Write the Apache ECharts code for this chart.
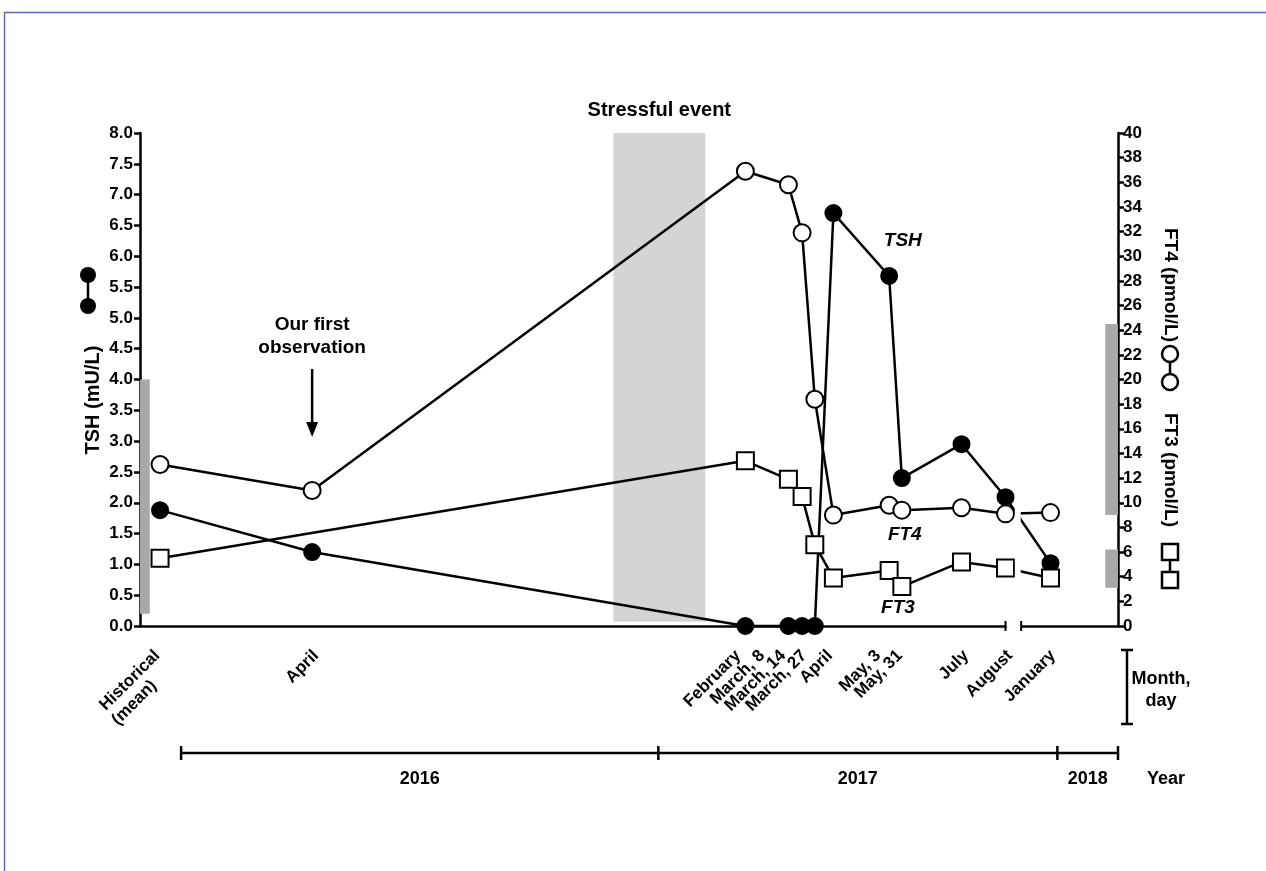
<!DOCTYPE html>
<html>
<head>
<meta charset="utf-8">
<script src="https://cdn.jsdelivr.net/npm/echarts@6.0.0/dist/echarts.min.js"></script>
<style>
  html, body { margin: 0; padding: 0; background: #fff; }
  #chart { width: 1266px; height: 871px; }
</style>
</head>
<body>
<div id="chart"></div>
<script>
const FONT = '"Liberation Sans", Arial, sans-serif'

// visits, placed on a plain 0..100 time track
const visitLabels = ["\nHistorical\n(mean)     ", "April", "February", "March, 8", "March, 14", "March, 27",
  "April", "May, 3", "May, 31", "July", "August", "January"]
const visitX = [2.05, 17.6, 61.9, 66.3, 67.7, 69.0, 70.9, 76.6, 77.9, 84.0, 88.5, 93.1]
// where the month labels sit on the track (spread apart where visits crowd)
const visitLabelX = [1.77, 18.0, 61.15, 63.6, 65.75, 67.9, 70.55, 75.46, 77.7, 84.46, 88.96, 93.35]

const tsh = [1.88, 1.20, 0, 0, 0, 0, 6.70, 5.68, 2.40, 2.95, 2.09, 1.02]
const ft4 = [13.1, 11.0, 36.9, 35.8, 31.9, 18.4, 9.0, 9.8, 9.4, 9.6, 9.1, 9.2]
const ft3 = [5.5, null, 13.4, 11.9, 10.5, 6.6, 3.9, 4.5, 3.2, 5.2, 4.7, 3.9]

// reference ranges
const tshRef = [0.2, 4.0]
const ft4Ref = [9.0, 24.5]
const ft3Ref = [3.1, 6.2]

const stressWindow = [48.4, 57.8]
const years = ["2016", "2017", "2018"]
const yearBounds = [4.2, 53.0, 93.8, 100]
const axisBreak = [88.6, 90.1]

const chart = echarts.init(document.getElementById("chart"), null, { renderer: "canvas" })

function pairs(values) {
  return visitX.map((x, i) => [x, values[i]]).filter((p) => p[1] != null)
}

const labelFor = {}
visitLabelX.forEach((x, i) => { labelFor[x] = visitLabels[i] })

const axisStyle = { lineStyle: { color: "#000", width: 2.5 } }
const tickLabel = { color: "#000", fontFamily: FONT, fontWeight: "bold", fontSize: 17 }

function dataSeries(name, values, yAxisIndex, symbol, fill, size, z) {
  return {
    name,
    type: "line",
    yAxisIndex,
    z,
    clip: false,
    silent: true,
    animation: false,
    data: pairs(values),
    symbol,
    symbolSize: size,
    showAllSymbol: true,
    lineStyle: { color: "#000", width: 2.5 },
    itemStyle: { color: fill, borderColor: "#000", borderWidth: 2, opacity: 1 }
  }
}

chart.setOption({
  animation: false,
  grid: { left: 140, right: 148, top: 133, bottom: 245 },
  xAxis: {
    type: "value",
    min: 0,
    max: 100,
    axisLine: { show: true, onZero: false, ...axisStyle },
    axisTick: { show: false },
    splitLine: { show: false },
    axisLabel: {
      ...tickLabel,
      customValues: visitLabelX,
      rotate: 45,
      margin: 27,
      lineHeight: 19,
      formatter: (v) => labelFor[v] || ""
    }
  },
  yAxis: [
    {
      type: "value",
      min: 0,
      max: 8,
      interval: 0.5,
      position: "left",
      axisLine: { show: true, ...axisStyle },
      axisTick: { show: true, length: 6, ...axisStyle },
      splitLine: { show: false },
      axisLabel: { ...tickLabel, margin: 7, formatter: (v) => v.toFixed(1) }
    },
    {
      type: "value",
      min: 0,
      max: 40,
      interval: 2,
      position: "right",
      axisLine: { show: true, ...axisStyle },
      axisTick: { show: true, length: 6, ...axisStyle },
      splitLine: { show: false },
      axisLabel: { ...tickLabel, margin: 5 }
    }
  ],
  series: [
    {
      type: "line",
      yAxisIndex: 0,
      z: 1,
      silent: true,
      data: [],
      markArea: {
        silent: true,
        label: { show: false },
        data: [
          [{ xAxis: stressWindow[0], yAxis: 0.07, itemStyle: { color: "#d4d4d4" } }, { xAxis: stressWindow[1], yAxis: 8 }],
          [{ xAxis: 0, yAxis: tshRef[0], itemStyle: { color: "#a8a8a8" } }, { xAxis: 1.0, yAxis: tshRef[1] }]
        ]
      }
    },
    {
      type: "line",
      yAxisIndex: 1,
      z: 1,
      silent: true,
      data: [],
      markArea: {
        silent: true,
        label: { show: false },
        itemStyle: { color: "#a8a8a8" },
        data: [
          [{ xAxis: 98.7, yAxis: ft4Ref[0] }, { xAxis: 100, yAxis: ft4Ref[1] }],
          [{ xAxis: 98.7, yAxis: ft3Ref[0] }, { xAxis: 100, yAxis: ft3Ref[1] }]
        ]
      }
    },
    dataSeries("FT4", ft4, 1, "circle", "#fff", 17, 3),
    dataSeries("TSH", tsh, 0, "circle", "#000", 16, 4),
    dataSeries("FT3", ft3, 1, "rect", "#fff", 17, 5)
  ]
})

// annotations placed through the axes
const px = (x, y) => chart.convertToPixel({ xAxisIndex: 0, yAxisIndex: 0 }, [x, y])
const x0 = px(0, 0)[1]
const boldText = (text, x, y, extra = {}) => ({
  type: "text",
  z: 120,
  x, y,
  style: {
    text,
    fill: "#000",
    font: `${extra.italic ? "italic " : ""}bold ${extra.size || 18}px ${FONT}`,
    textAlign: "center",
    textVerticalAlign: "middle",
    lineHeight: extra.lineHeight || 22
  },
  rotation: extra.rotation || 0
})
const seg = (x1, y1, x2, y2, w = 2.5) => ({
  type: "line",
  z: 120,
  shape: { x1, y1, x2, y2 },
  style: { stroke: "#000", lineWidth: w }
})

const graphics = []
graphics.push({
  type: "rect", z: 130, silent: true,
  shape: { x: 4.5, y: 12.5, width: 1400, height: 1000 },
  style: { fill: null, stroke: "#5568b0", lineWidth: 1.5 }
})

// broken time axis between August and January
const gapL = px(89.45, 0)[0]
const gapR = px(90.05, 0)[0]
graphics.push({ type: "rect", z: 110, shape: { x: gapL, y: 125, width: gapR - gapL, height: x0 - 120 }, style: { fill: "#fff" } })
const brkL = px(axisBreak[0], 0)[0]
const brkR = px(axisBreak[1], 0)[0]
graphics.push({ type: "rect", z: 110, shape: { x: brkL, y: x0 - 6, width: brkR - brkL, height: 12 }, style: { fill: "#fff" } })
graphics.push(seg(brkL - 1, x0 - 5, brkL - 1, x0 + 5, 2))
graphics.push(seg(brkR, x0 - 5, brkR, x0 + 5, 2))

// year timeline
const yearY = 753
const yb = yearBounds.map((v) => px(v, 0)[0])
graphics.push(seg(yb[0], yearY, yb[yb.length - 1], yearY))
yb.forEach((x) => graphics.push(seg(x, yearY - 7, x, yearY + 7)))
years.forEach((t, i) => graphics.push(boldText(t, (yb[i] + yb[i + 1]) / 2, yearY + 26)))
graphics.push(boldText("Year", yb[yb.length - 1] + 48, yearY + 26))

// month/day bracket
const brX = yb[yb.length - 1] + 9
graphics.push(seg(brX, 650, brX, 724))
graphics.push(seg(brX - 6, 650, brX + 6, 650))
graphics.push(seg(brX - 6, 724, brX + 6, 724))
graphics.push(boldText("Month,\nday", brX + 34, 690))

// stressful event
const stressMid = px((stressWindow[0] + stressWindow[1]) / 2, 8)
graphics.push(boldText("Stressful event", stressMid[0], stressMid[1] - 23, { size: 20 }))

// first observation arrow
const firstObs = px(visitX[1], 0)[0]
graphics.push(boldText("Our first\nobservation", firstObs, 336, { size: 19, lineHeight: 23 }))
graphics.push(seg(firstObs, 369, firstObs, 426, 2.5))
graphics.push({
  type: "polygon", z: 120,
  shape: { points: [[firstObs - 6, 422], [firstObs + 6, 422], [firstObs, 437]] },
  style: { fill: "#000" }
})

// series names inside the plot
const tshLbl = px(78.0, 6.25)
graphics.push(boldText("TSH", tshLbl[0], tshLbl[1], { italic: true, size: 19 }))
const ft4Lbl = px(78.2, 1.48)
graphics.push(boldText("FT4", ft4Lbl[0], ft4Lbl[1], { italic: true, size: 19 }))
const ft3Lbl = px(77.5, 0.29)
graphics.push(boldText("FT3", ft3Lbl[0], ft3Lbl[1], { italic: true, size: 19 }))

// axis titles with symbol keys
graphics.push(boldText("TSH (mU/L)", 93, 400, { rotation: Math.PI / 2, size: 20 }))
graphics.push(seg(88, 275, 88, 306))
graphics.push({ type: "circle", z: 121, shape: { cx: 88, cy: 275, r: 8 }, style: { fill: "#000" } })
graphics.push({ type: "circle", z: 121, shape: { cx: 88, cy: 306, r: 8 }, style: { fill: "#000" } })

const rightX = 1170
graphics.push(boldText("FT4 (pmol/L)", rightX, 285, { rotation: -Math.PI / 2, size: 19 }))
graphics.push(seg(rightX, 354, rightX, 382))
graphics.push({ type: "circle", z: 121, shape: { cx: rightX, cy: 354, r: 8 }, style: { fill: "#fff", stroke: "#000", lineWidth: 2.5 } })
graphics.push({ type: "circle", z: 121, shape: { cx: rightX, cy: 382, r: 8 }, style: { fill: "#fff", stroke: "#000", lineWidth: 2.5 } })
graphics.push(boldText("FT3 (pmol/L)", rightX, 470, { rotation: -Math.PI / 2, size: 19 }))
graphics.push(seg(rightX, 552, rightX, 580))
graphics.push({ type: "rect", z: 121, shape: { x: rightX - 8, y: 544, width: 16, height: 16 }, style: { fill: "#fff", stroke: "#000", lineWidth: 2.5 } })
graphics.push({ type: "rect", z: 121, shape: { x: rightX - 8, y: 572, width: 16, height: 16 }, style: { fill: "#fff", stroke: "#000", lineWidth: 2.5 } })

chart.setOption({ graphic: graphics })
</script>
</body>
</html>
